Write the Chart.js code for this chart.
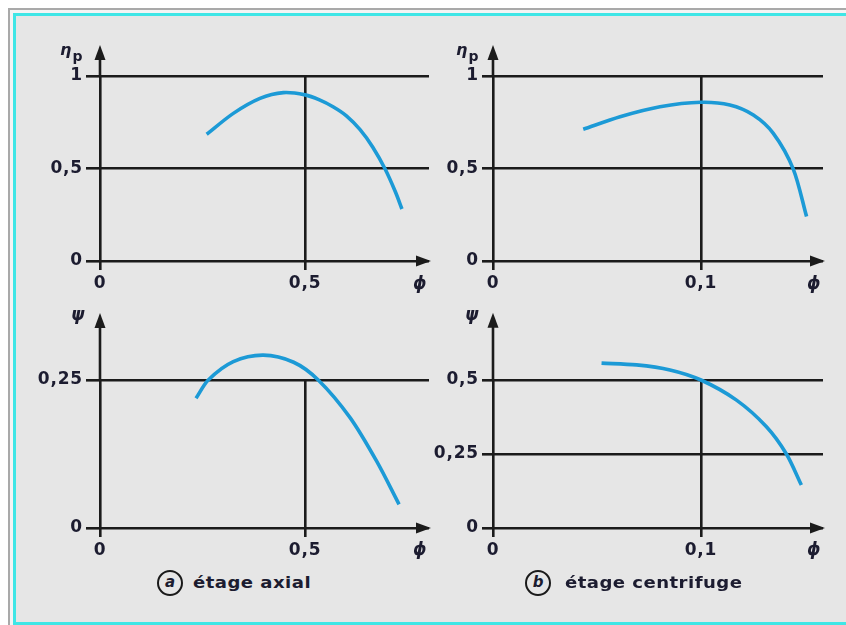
<!DOCTYPE html>
<html>
<head>
<meta charset="utf-8">
<script src="https://cdn.jsdelivr.net/npm/chart.js@4/dist/chart.umd.min.js"></script>
<style>
  html, body { margin: 0; padding: 0; background: #fff; width: 846px; height: 625px; overflow: hidden; }
  .outer { position: absolute; left: 8px; top: 8px; width: 900px; height: 700px; border-left: 2px solid #a9a9a9; border-top: 2px solid #a9a9a9; background: #f4f4f4; }
  .inner { position: absolute; left: 13px; top: 13px; width: 860px; height: 606px; border: 3px solid #3fe6e6; background: #e6e6e6; }
  canvas { position: absolute; }
  .lbl { position: absolute; font-family: "DejaVu Sans", sans-serif; font-weight: bold; color: #1c1c30; white-space: nowrap; }
  .cap { position: absolute; font-family: "DejaVu Sans", sans-serif; font-weight: bold; font-size: 16px; letter-spacing: 0.4px; color: #1c1c30; white-space: nowrap; line-height: 20px; transform: scaleX(1.13); transform-origin: left center; }
  .circ { position: absolute; width: 22px; height: 22px; border: 2px solid #1a1a1a; border-radius: 50%; font-family: "DejaVu Sans", sans-serif; font-weight: bold; font-style: italic; font-size: 15px; line-height: 21px; text-align: center; color: #1c1c30; }
</style>
</head>
<body>
<div class="outer"></div>
<div class="inner"></div>

<canvas id="c1" width="424" height="284" style="left:16px;top:16px"></canvas>
<canvas id="c2" width="416" height="284" style="left:430px;top:16px"></canvas>
<canvas id="c3" width="424" height="270" style="left:16px;top:300px"></canvas>
<canvas id="c4" width="416" height="270" style="left:430px;top:300px"></canvas>

<div class="lbl" style="left:60px;top:40px;font-size:16px;font-style:italic">η<span style="font-style:normal;font-size:14px;position:relative;top:6px;left:1px">p</span></div>
<div class="lbl" style="left:456px;top:40px;font-size:16px;font-style:italic">η<span style="font-style:normal;font-size:14px;position:relative;top:6px;left:1px">p</span></div>
<div class="lbl" style="left:71px;top:304px;font-size:17px;font-style:italic">ψ</div>
<div class="lbl" style="left:465px;top:304px;font-size:17px;font-style:italic">ψ</div>
<div class="lbl" style="left:413px;top:273px;font-size:17px;font-style:italic">ϕ</div>
<div class="lbl" style="left:807px;top:273px;font-size:17px;font-style:italic">ϕ</div>
<div class="lbl" style="left:413px;top:539px;font-size:17px;font-style:italic">ϕ</div>
<div class="lbl" style="left:807px;top:539px;font-size:17px;font-style:italic">ϕ</div>

<div class="circ" style="left:157px;top:570px">a</div>
<div class="cap" style="left:193px;top:573px">étage axial</div>
<div class="circ" style="left:525px;top:570px">b</div>
<div class="cap" style="left:565px;top:573px">étage centrifuge</div>

<script>
// axial stage, efficiency
const etaAxialPhi = [0.260, 0.325, 0.390, 0.447, 0.500, 0.535, 0.568, 0.600, 0.634, 0.665, 0.695, 0.720, 0.736];
const etaAxialVal = [0.685, 0.798, 0.879, 0.910, 0.898, 0.871, 0.834, 0.786, 0.710, 0.615, 0.497, 0.374, 0.281];
// centrifugal stage, efficiency
const etaCentPhi = [0.0434, 0.0611, 0.0803, 0.1000, 0.1139, 0.1252, 0.1348, 0.1444, 0.1508];
const etaCentVal = [0.712, 0.780, 0.834, 0.858, 0.843, 0.789, 0.690, 0.497, 0.240];
// axial stage, pressure coefficient
const psiAxialPhi = [0.234, 0.264, 0.325, 0.398, 0.472, 0.532, 0.610, 0.675, 0.729];
const psiAxialVal = [0.219, 0.250, 0.281, 0.292, 0.280, 0.250, 0.186, 0.112, 0.040];
// centrifugal stage, pressure coefficient
const psiCentPhi = [0.0522, 0.0690, 0.0851, 0.1000, 0.1171, 0.1315, 0.1411, 0.1483];
const psiCentVal = [0.557, 0.551, 0.534, 0.500, 0.432, 0.342, 0.250, 0.145];

// tick labels
const axialPhiTicks = [0, 0.5];
const centPhiTicks = [0, 0.1];
const etaTicks = [0, 0.5, 1];
const psiAxialTicks = [0, 0.25];
const psiCentTicks = [0, 0.25, 0.5];

const INK = '#1b1b1b';
const BLUE = '#1c9ad6';
const tickFont = { family: 'DejaVu Sans', weight: 'bold', size: 17 };

// a little letter spacing on canvas text, like the wide print face
const spacing = {
  id: 'spacing',
  beforeLayout(chart) { chart.ctx.letterSpacing = '0.8px'; },
  beforeDraw(chart) { chart.ctx.letterSpacing = '0.8px'; }
};

// y axis going up to an arrow, arrow head on the x axis
const arrows = {
  id: 'arrows',
  afterDraw(chart, args, opts) {
    const { ctx, chartArea, scales: { x, y } } = chart;
    const x0 = x.getPixelForValue(0);
    const y0 = y.getPixelForValue(0);
    const tip = y.getPixelForValue(opts.yTip);
    ctx.save();
    ctx.strokeStyle = INK;
    ctx.fillStyle = INK;
    ctx.lineWidth = 2.6;
    ctx.beginPath();
    ctx.moveTo(x0, chartArea.top);
    ctx.lineTo(x0, tip + 8);
    ctx.stroke();
    ctx.beginPath();
    ctx.moveTo(x0, tip);
    ctx.lineTo(x0 - 5.5, tip + 15);
    ctx.lineTo(x0 + 5.5, tip + 15);
    ctx.closePath();
    ctx.fill();
    const xr = chartArea.right + 2;
    ctx.beginPath();
    ctx.moveTo(xr, y0);
    ctx.lineTo(xr - 15, y0 - 5.5);
    ctx.lineTo(xr - 15, y0 + 5.5);
    ctx.closePath();
    ctx.fill();
    ctx.restore();
  }
};

const fmt = v => String(v).replace('.', ',');

function panel(id, phi, vals, xTicks, yTicks, xMax, yTip, yWidth, yTick, padTop, padRight, xHeight) {
  new Chart(document.getElementById(id), {
    type: 'scatter',
    data: {
      datasets: [{
        data: phi.map((p, i) => ({ x: p, y: vals[i] })),
        showLine: true,
        borderColor: BLUE,
        borderWidth: 3.6,
        pointRadius: 0,
        tension: 0.3,
        clip: false
      }]
    },
    options: {
      responsive: false,
      animation: false,
      devicePixelRatio: 1,
      layout: { autoPadding: false, padding: { top: padTop, right: padRight, left: 0, bottom: 0 } },
      plugins: { legend: { display: false }, tooltip: { enabled: false }, arrows: { yTip } },
      scales: {
        x: {
          type: 'linear', min: 0, max: xMax,
          afterBuildTicks: a => { a.ticks = xTicks.map(v => ({ value: v })); },
          afterFit: s => { s.height = xHeight; },
          border: { display: false },
          grid: { color: INK, lineWidth: 2.6, tickLength: 9 },
          ticks: { callback: fmt, font: tickFont, color: '#1c1c30', padding: 3, maxRotation: 0 }
        },
        y: {
          type: 'linear', min: 0, max: yTicks[yTicks.length - 1],
          afterBuildTicks: a => { a.ticks = yTicks.map(v => ({ value: v })); },
          afterFit: s => { s.width = yWidth; },
          border: { display: false },
          grid: { color: INK, lineWidth: 2.6, tickLength: yTick },
          ticks: { callback: fmt, font: tickFont, color: '#1c1c30', padding: 3 }
        }
      }
    },
    plugins: [spacing, arrows]
  });
}

panel('c1', etaAxialPhi, etaAxialVal, axialPhiTicks, etaTicks, 0.802, 1.168, 84, 14, 60, 11, 39);
panel('c2', etaCentPhi, etaCentVal, centPhiTicks, etaTicks, 0.1587, 1.168, 63, 11, 60, 23, 39);
panel('c3', psiAxialPhi, psiAxialVal, axialPhiTicks, psiAxialTicks, 0.802, 0.363, 84, 14, 80, 11, 42);
panel('c4', psiCentPhi, psiCentVal, centPhiTicks, psiCentTicks, 0.1587, 0.727, 63, 11, 80, 23, 42);
</script>
</body>
</html>
